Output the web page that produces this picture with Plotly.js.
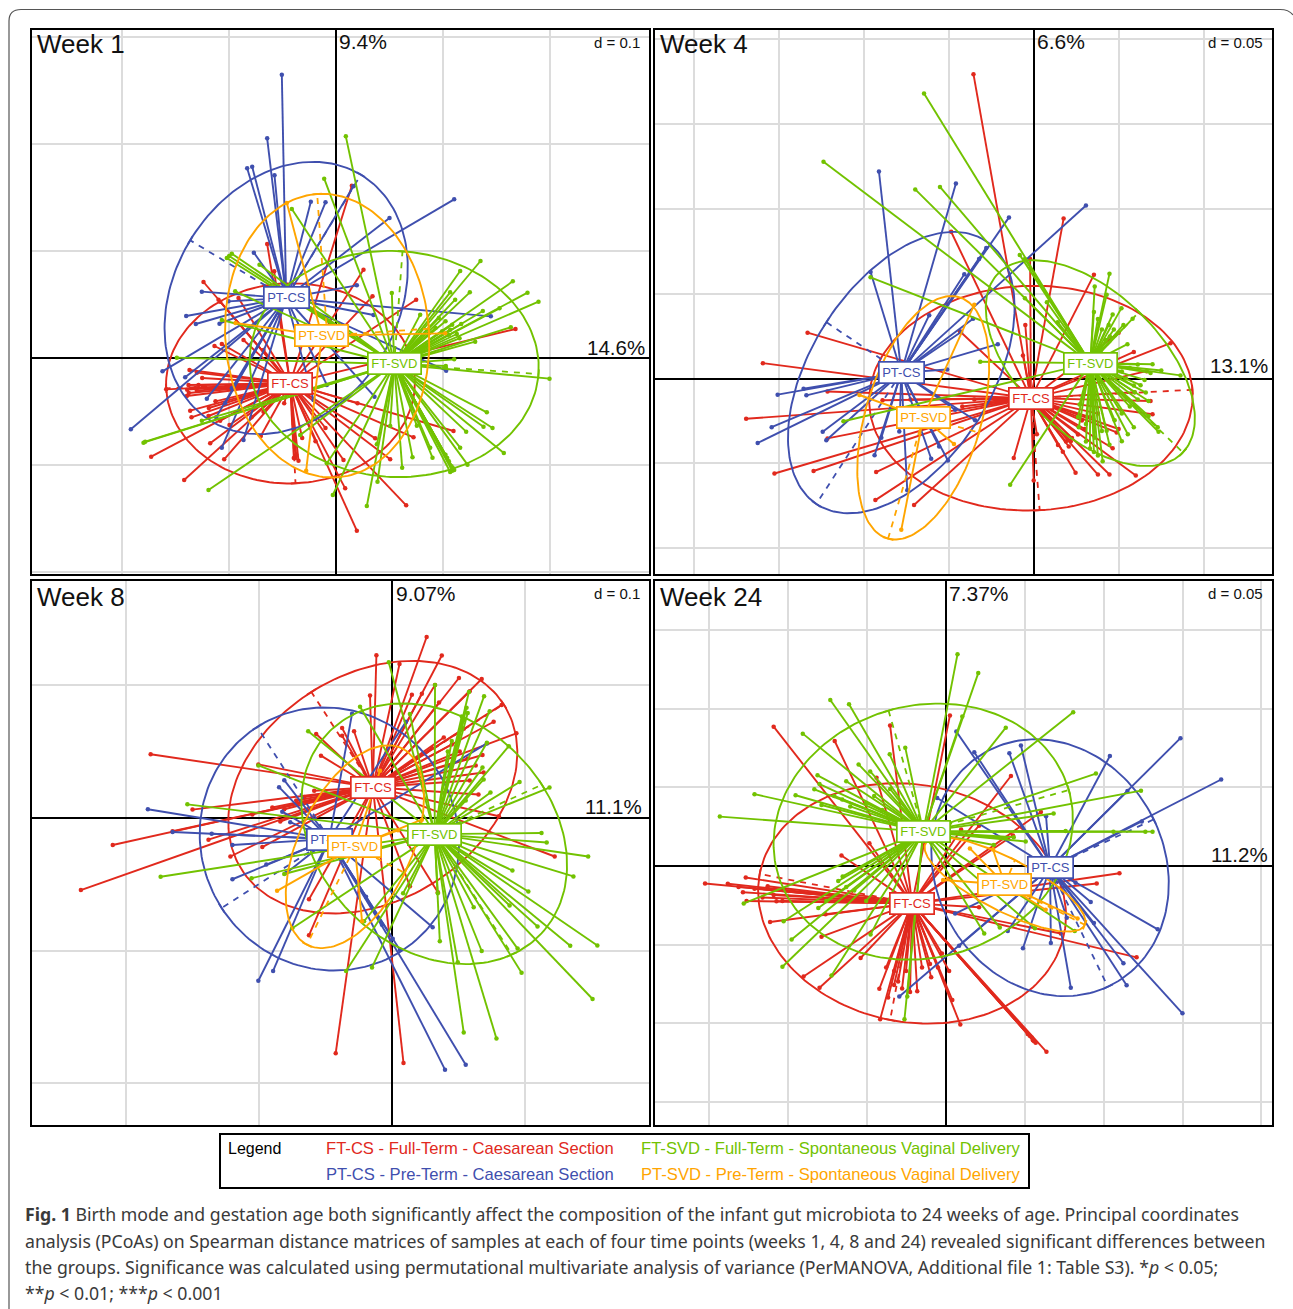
<!DOCTYPE html>
<html><head><meta charset="utf-8">
<script src="https://cdn.plot.ly/plotly-3.0.1.min.js"></script>
<style>html,body{margin:0;padding:0;background:#fff}#p{width:1293px;height:1309px}</style>
</head><body><div id="p"></div>
<script>
// Ellipses: [centreX, centreY, axisAx, axisAy, axisBx, axisBy]
const w1_FTCS_ell=[-135,-76,-373,-15,15,-300];
const w1_PTCS_ell=[-148,180,224,370,-288,173];
const w1_FTSVD_ell=[176,-18,433,-30,25,338];
const w1_PTSVD_ell=[-25,67,-30,425,305,21];
const w1_FTCS=[[-438,-36],[-416,-44],[-411,-81],[-441,-81],[-508,-94],[-446,-114],[-416,-98],[-436,-158],[-432,-178],[-381,-174],[-346,-188],[-376,-256],[-318,-201],[-252,-178],[-216,-161],[-224,-234],[-154,-136],[-111,-308],[-553,-296],[-454,-366],[-334,-304],[-363,36],[-341,42],[-346,169],[-276,54],[-216,24],[-205,342],[-184,260],[-396,228],[-351,175],[-291,180],[49,517],[84,265],[111,185],[242,175],[24,-306],[29,-391],[64,-518],[212,-442],[354,-219],[234,-238],[164,-304],[119,-241],[66,-136],[540,87],[-120,-300],[-100,-240],[-60,-250],[-30,-210],[-420,-90],[-445,-95],[-440,-105],[-400,-60],[-390,-90],[-125,-300],[-118,-290],[-380,-150],[-360,-130]];
const w1_PTCS=[[-161,850],[-205,659],[-265,569],[-250,574],[-183,548],[-74,469],[-30,467],[-245,316],[-401,199],[-321,170],[-448,126],[-419,102],[-348,103],[-519,-40],[-451,-58],[-614,-214],[-386,-122],[-341,-269],[-276,-246],[-311,-91],[-331,-136],[-358,-178],[-66,-126],[-26,-81],[356,476],[162,420],[54,515],[64,218],[466,125],[332,-38],[117,-116],[114,129]];
const w1_FTSVD=[[356,-4],[331,-24],[642,-62],[454,-163],[471,-210],[444,-206],[392,-221],[505,-285],[374,-269],[396,-320],[356,-336],[344,-342],[291,-299],[284,-269],[231,-298],[200,-329],[244,-203],[124,-259],[126,-371],[94,-444],[-8,-411],[164,-204],[609,169],[526,92],[492,149],[442,141],[419,49],[372,59],[377,102],[364,72],[344,85],[254,130],[435,291],[374,261],[532,230],[576,196],[403,197],[359,175],[344,197],[169,195],[31,665],[-34,538],[-131,447],[-326,300],[-311,313],[-319,306],[-228,280],[-301,200],[-341,114],[-476,1],[-576,-254],[-571,-251],[-401,-188],[-381,-396],[-106,-231],[-26,-316],[350,-338],[352,-330],[348,-325],[340,-310],[335,-300],[330,-290],[300,90],[320,80],[340,70],[350,100],[330,110],[310,120]];
const w1_PTSVD=[[-146,465],[-88,-338],[329,74],[-300,105]];
const w1_centres={FTCS:[-136,-76],PTCS:[-148,180],FTSVD:[176,-18],PTSVD:[-41,67]};

const w4_FTCS_ell=[-8,-56,405,24,22,-320];
const w4_PTCS_ell=[-333,17,-213,-375,-188,144];
const w4_FTSVD_ell=[141,44,232,-255,122,146];
const w4_PTSVD_ell=[-278,-112,-88,-345,140,-42];
const w4_FTCS=[[-152,869],[74,457],[150,296],[-208,419],[-568,131],[-680,44],[-722,-115],[-651,-271],[-553,-264],[-396,-267],[-398,-347],[-301,-361],[-518,-37],[-518,-171],[-186,135],[-28,66],[-22,153],[-10,341],[-51,-227],[-1,-291],[7,-159],[104,-269],[160,-274],[189,-274],[255,-277],[72,-209],[87,-194],[197,-199],[207,-154],[212,-144],[297,-102],[252,-39],[282,21],[342,101],[250,76],[212,131],[127,-144],[92,-179],[292,-64],[60,-190],[80,-180],[95,-170],[110,-160],[120,-120],[140,-110],[160,-100],[-380,-62],[-310,-60],[-250,-100],[-180,-80],[-150,-60],[-120,-70]];
const w4_PTCS=[[-389,591],[-196,557],[-63,460],[130,494],[-410,304],[-175,298],[-161,304],[-138,341],[-120,373],[-263,181],[-153,171],[-183,133],[-91,98],[-218,26],[-643,-46],[-578,-29],[-571,-48],[-658,-139],[-693,-184],[-530,-152],[-521,-176],[-400,-219],[-383,-169],[-338,-151],[-318,-319],[-258,-229],[-238,-194],[-216,-234],[-148,-119],[-198,-89]];
const w4_FTSVD=[[-276,814],[-528,619],[-298,540],[-236,547],[-410,289],[-135,48],[-478,-122],[-60,-303],[-36,353],[-23,341],[189,299],[152,263],[182,239],[219,201],[247,171],[197,183],[224,153],[234,98],[187,153],[32,218],[-23,229],[59,161],[367,9],[319,23],[297,41],[292,16],[277,-4],[267,-19],[252,-39],[287,-64],[287,-107],[310,-139],[312,-152],[250,-139],[235,-159],[220,-179],[182,-149],[189,-189],[172,-236],[152,-169],[112,-139],[114,-74],[202,-119],[130,-180],[140,-200],[150,-210],[160,-220],[170,-150],[130,-130],[110,-110],[220,-100],[240,-80],[260,-60],[280,-40],[250,-20],[230,0],[220,20],[240,30],[260,40],[180,110],[190,120],[170,140],[160,170],[150,190],[200,140]];
const w4_PTSVD=[[-333,-432],[-150,211],[-438,-47],[-201,-187]];
const w4_centres={FTCS:[-8,-56],PTCS:[-333,17],FTSVD:[141,44],PTSVD:[-278,-112]};

const w8_FTCS_ell=[-48,88,328,237,-154,272];
const w8_PTCS_ell=[-157,-60,-270,-197,-181,320];
const w8_FTSVD_ell=[106,-45,270,140,195,-345];
const w8_PTSVD_ell=[-93,-82,-120,-280,125,-75];
const w8_FTCS=[[87,517],[-39,465],[19,440],[125,464],[168,400],[225,397],[108,380],[-55,350],[50,352],[75,355],[118,330],[195,362],[275,323],[255,275],[180,255],[312,242],[227,180],[195,107],[217,67],[268,5],[408,-110],[115,-212],[45,-195],[29,-700],[-141,-672],[-208,-335],[-208,-232],[-325,-83],[-405,-110],[-460,-62],[-550,-38],[-700,-77],[-780,-206],[-500,24],[-270,25],[-195,78],[-605,182],[-335,153],[-178,178],[-125,257],[-190,240],[-95,248],[-125,235],[100,200],[130,230],[150,210],[170,190],[190,170],[210,150],[230,130],[-300,30],[-240,50],[-220,60],[-350,10],[-280,-10]];
const w8_PTCS=[[-100,298],[35,275],[238,213],[-270,108],[-283,88],[-275,18],[-255,-12],[-612,25],[-550,-40],[-452,-45],[-400,-77],[-400,-175],[-315,-133],[-265,-157],[-335,-465],[-298,-437],[133,-719],[185,-705],[102,-312],[-65,-225],[-25,-305],[2,-345],[20,-377]];
const w8_FTSVD=[[-8,445],[108,380],[193,360],[231,348],[187,315],[245,305],[180,280],[-80,318],[45,297],[-210,248],[238,215],[293,205],[227,144],[320,103],[395,87],[247,73],[185,50],[230,110],[-335,150],[-513,39],[-580,-168],[-352,-172],[-270,-160],[-250,-315],[-115,-437],[-50,-427],[-70,-295],[28,-215],[115,-215],[120,-352],[165,-412],[180,-613],[262,-630],[225,-380],[205,-255],[325,-442],[315,-373],[295,-250],[365,-310],[447,-365],[515,-364],[503,-517],[342,-210],[302,-150],[455,-167],[492,-110],[388,-70],[375,-43],[175,290],[150,220],[140,190],[190,300]];
const w8_PTSVD=[[-288,-208],[-75,-295],[75,-5],[-30,135],[15,-35]];
const w8_centres={FTCS:[-48,88],PTCS:[-157,-60],FTSVD:[107,-46],PTSVD:[-93,-82]};

const w24_FTCS_ell=[-85,-107,-382,84,-55,-333];
const w24_PTCS_ell=[261,-5,145,-340,260,138];
const w24_FTSVD_ell=[-57,98,365,119,-87,346];
const w24_PTSVD_ell=[148,-53,200,-115,25,70];
const w24_FTCS=[[-432,398],[-279,357],[-140,401],[10,430],[-174,252],[163,257],[238,154],[83,115],[38,104],[168,87],[-192,65],[-262,30],[-604,-50],[-547,-51],[-502,-33],[-509,-75],[-447,-58],[-432,-83],[-425,-101],[-441,-160],[-302,-138],[-312,-202],[-357,-316],[-317,-348],[-214,-263],[-167,-351],[-165,-438],[-145,-376],[-72,-358],[-37,-318],[8,-300],[16,-383],[36,-453],[221,-501],[252,-531],[478,-261],[288,-193],[378,-50],[435,-21],[83,-118],[218,-498],[-520,-60],[-480,-65],[-460,-90],[-500,-100],[-410,-100],[225,-505],[215,-490],[210,-485],[205,-480],[-120,-330],[-110,-350],[-100,-300],[-90,-360],[-130,-340],[-60,-290],[-40,-280],[-20,-290],[-10,-250],[-130,-300],[-150,-290]];
const w24_PTCS=[[588,365],[690,247],[411,314],[455,214],[491,127],[26,384],[71,325],[159,322],[188,344],[251,142],[-22,194],[531,-181],[593,-421],[453,-341],[445,-278],[371,-163],[363,-103],[313,-348],[303,-148],[263,-220],[193,-235],[155,-186],[-117,-373],[33,-228],[23,-136],[325,-48]];
const w24_FTSVD=[[29,605],[81,551],[319,439],[150,395],[-290,474],[-243,462],[-359,378],[-141,319],[-102,338],[-219,290],[-190,270],[-322,259],[-250,242],[-317,234],[-330,219],[-480,205],[-377,202],[-312,174],[-567,141],[41,427],[376,264],[489,215],[270,150],[518,98],[170,82],[-507,-107],[-259,-30],[-270,-43],[-407,-158],[-387,-210],[-410,-288],[-287,-313],[-189,-196],[-104,-438],[-97,-373],[96,-193],[135,-176],[323,-186],[223,-178],[-280,200],[-260,190],[-240,170],[-200,180],[-180,200],[-160,160],[-140,220],[300,100],[420,98],[500,98],[200,70],[150,80],[120,60],[-300,-100],[-320,-120],[-250,-60],[-230,-70],[-200,-100]];
const w24_PTSVD=[[118,47],[-7,-40],[330,-150],[60,50],[250,-125]];
const w24_centres={FTCS:[-85,-107],PTCS:[261,-5],FTSVD:[-57,98],PTSVD:[148,-53]};

const groupKeys=['FTCS','PTCS','FTSVD','PTSVD'];
const groupNames={FTCS:'FT-CS',PTCS:'PT-CS',FTSVD:'FT-SVD',PTSVD:'PT-SVD'};
const groupColors={FTCS:'#E1291D',PTCS:'#3F4FAE',FTSVD:'#72C200',PTSVD:'#FFA500'};
const legendEntries=[['FTCS','FT-CS - Full-Term - Caesarean Section'],['FTSVD','FT-SVD - Full-Term - Spontaneous Vaginal Delivery'],['PTCS','PT-CS - Pre-Term - Caesarean Section'],['PTSVD','PT-SVD - Pre-Term - Spontaneous Vaginal Delivery']];
const captionLines=['<b>Fig. 1</b> Birth mode and gestation age both significantly affect the composition of the infant gut microbiota to 24 weeks of age. Principal coordinates','analysis (PCoAs) on Spearman distance matrices of samples at each of four time points (weeks 1, 4, 8 and 24) revealed significant differences between','the groups. Significance was calculated using permutational multivariate analysis of variance (PerMANOVA, Additional file 1: Table S3). *<i>p</i> &lt; 0.05;','**<i>p</i> &lt; 0.01; ***<i>p</i> &lt; 0.001'];

const W=1293,H=1309;
const X=v=>v/W, Y=v=>1-v/H;
const panels=[
 {name:'Week 1',pc1:'14.6%',pc2:'9.4%',d:'d = 0.1',box:[32,649,30,574],rx:[-910.5,940.5],ry:[-648,984],dx:321,dy:321,nameY:44,dY:42,
  data:{FTCS:w1_FTCS,PTCS:w1_PTCS,FTSVD:w1_FTSVD,PTSVD:w1_PTSVD},ell:{FTCS:w1_FTCS_ell,PTCS:w1_PTCS_ell,FTSVD:w1_FTSVD_ell,PTSVD:w1_PTSVD_ell},c:w1_centres,
  pc1Pos:[647,347],pc2Pos:[337,41]},
 {name:'Week 4',pc1:'13.1%',pc2:'6.6%',d:'d = 0.05',box:[655,1272,30,574],rx:[-950.5,596.5],ry:[-558,995],dx:213,dy:242,nameY:44,dY:42,
  data:{FTCS:w4_FTCS,PTCS:w4_PTCS,FTSVD:w4_FTSVD,PTSVD:w4_PTSVD},ell:{FTCS:w4_FTCS_ell,PTCS:w4_PTCS_ell,FTSVD:w4_FTSVD_ell,PTSVD:w4_PTSVD_ell},c:w4_centres,
  pc1Pos:[1270,366],pc2Pos:[1035,41]},
 {name:'Week 8',pc1:'11.1%',pc2:'9.07%',d:'d = 0.1',box:[32,649,581,1125],rx:[-902.5,644.5],ry:[-877,677],dx:333,dy:379,nameY:597,dY:593,
  data:{FTCS:w8_FTCS,PTCS:w8_PTCS,FTSVD:w8_FTSVD,PTSVD:w8_PTSVD},ell:{FTCS:w8_FTCS_ell,PTCS:w8_PTCS_ell,FTSVD:w8_FTSVD_ell,PTSVD:w8_PTSVD_ell},c:w8_centres,
  pc1Pos:[644,806],pc2Pos:[394,593]},
 {name:'Week 24',pc1:'11.2%',pc2:'7.37%',d:'d = 0.05',box:[655,1272,581,1125],rx:[-729.5,817.5],ry:[-740,814],dx:197.7,dy:224.5,nameY:597,dY:593,
  data:{FTCS:w24_FTCS,PTCS:w24_PTCS,FTSVD:w24_FTSVD,PTSVD:w24_PTSVD},ell:{FTCS:w24_FTCS_ell,PTCS:w24_PTCS_ell,FTSVD:w24_FTSVD_ell,PTSVD:w24_PTSVD_ell},c:w24_centres,
  pc1Pos:[1270,854],pc2Pos:[947,593]}
];
const FONT='Liberation Sans, Arial, sans-serif';
const traces=[],annotations=[],layout={width:W,height:H,margin:{l:0,r:0,t:0,b:0},paper_bgcolor:'#fff',plot_bgcolor:'#fff',showlegend:false,hovermode:false};

panels.forEach((p,i)=>{
  const sfx=i===0?'':String(i+1);
  const xa='x'+sfx, ya='y'+sfx;
  const axBase={showline:true,mirror:true,linecolor:'#000',linewidth:2,showgrid:true,gridcolor:'#DCDCDC',gridwidth:2,zeroline:true,zerolinecolor:'#000',zerolinewidth:2,showticklabels:false,ticks:'',tick0:0};
  layout['xaxis'+sfx]=Object.assign({},axBase,{domain:[X(p.box[0]),X(p.box[1])],range:p.rx,dtick:p.dx,anchor:ya});
  layout['yaxis'+sfx]=Object.assign({},axBase,{domain:[Y(p.box[3]),Y(p.box[2])],range:p.ry,dtick:p.dy,anchor:xa});
  groupKeys.forEach(k=>{
    const col=groupColors[k],c=p.c[k],e=p.ell[k];
    const sx=[],sy=[];
    p.data[k].forEach(q=>{sx.push(c[0],q[0],null);sy.push(c[1],q[1],null);});
    traces.push({type:'scatter',mode:'lines',x:sx,y:sy,xaxis:xa,yaxis:ya,line:{color:col,width:1.9},hoverinfo:'skip'});
    traces.push({type:'scatter',mode:'markers',x:p.data[k].map(q=>q[0]),y:p.data[k].map(q=>q[1]),xaxis:xa,yaxis:ya,marker:{color:col,size:4.5},hoverinfo:'skip'});
    const ex=[],ey=[];
    for(let t=0;t<=180;t++){const a=t/180*2*Math.PI;ex.push(e[0]+e[2]*Math.cos(a)+e[4]*Math.sin(a));ey.push(e[1]+e[3]*Math.cos(a)+e[5]*Math.sin(a));}
    traces.push({type:'scatter',mode:'lines',x:ex,y:ey,xaxis:xa,yaxis:ya,line:{color:col,width:1.9},hoverinfo:'skip'});
    const ax=[],ay=[];
    [[e[2],e[3],e[4],e[5]],[e[4],e[5],e[2],e[3]]].forEach(v=>{ax.push(e[0],e[0]+v[0],null);ay.push(e[1],e[1]+v[1],null);});
    traces.push({type:'scatter',mode:'lines',x:ax,y:ay,xaxis:xa,yaxis:ya,line:{color:col,width:1.8,dash:'6px,6px'},hoverinfo:'skip'});
    const tx=[],ty=[];
    [[e[2],e[3],e[4],e[5]],[e[4],e[5],e[2],e[3]]].forEach(v=>{const n=Math.hypot(v[2],v[3]),u=v[2]/n*14,w=v[3]/n*14;tx.push(e[0]+v[0]-u,e[0]+v[0]+u,null);ty.push(e[1]+v[1]-w,e[1]+v[1]+w,null);});
    traces.push({type:'scatter',mode:'lines',x:tx,y:ty,xaxis:xa,yaxis:ya,line:{color:col,width:1.8},hoverinfo:'skip'});
  });
  groupKeys.forEach(k=>{
    annotations.push({xref:xa,yref:ya,x:p.c[k][0],y:p.c[k][1],text:groupNames[k],showarrow:false,bgcolor:'#fff',bordercolor:groupColors[k],borderwidth:1.7,borderpad:2.5,font:{family:FONT,size:13,color:groupColors[k]}});
  });
  annotations.push({xref:'paper',yref:'paper',x:X(p.box[0]+3),y:Y(p.nameY),xanchor:'left',yanchor:'middle',text:p.name,showarrow:false,font:{family:FONT,size:26,color:'#111'}});
  annotations.push({xref:'paper',yref:'paper',x:X(p.box[1]-7),y:Y(p.dY),xanchor:'right',yanchor:'middle',text:p.d,showarrow:false,font:{family:FONT,size:15,color:'#111'}});
  annotations.push({xref:'paper',yref:'paper',x:X(p.pc2Pos[0]),y:Y(p.pc2Pos[1]),xanchor:'left',yanchor:'middle',text:p.pc2,showarrow:false,font:{family:FONT,size:21,color:'#111'}});
  annotations.push({xref:'paper',yref:'paper',x:X(p.pc1Pos[0]),y:Y(p.pc1Pos[1]),xanchor:'right',yanchor:'middle',text:p.pc1,showarrow:false,font:{family:FONT,size:20.5,color:'#111'}});
});

annotations.push({xref:'paper',yref:'paper',x:X(226),y:Y(1148),xanchor:'left',yanchor:'middle',text:'Legend',showarrow:false,font:{family:FONT,size:16,color:'#000'}});
legendEntries.forEach((e,i)=>{
  annotations.push({xref:'paper',yref:'paper',x:X(i%2===0?324:639),y:Y(i<2?1148:1174),xanchor:'left',yanchor:'middle',text:e[1],showarrow:false,font:{family:FONT,size:16.6,color:groupColors[e[0]]}});
});
const capY=[1214,1241,1267,1293];
captionLines.forEach((t,i)=>annotations.push({xref:'paper',yref:'paper',x:X(23),y:Y(capY[i]),xanchor:'left',yanchor:'middle',text:t,showarrow:false,align:'left',font:{family:'Noto Sans, sans-serif',size:17.7,color:'#3a3a3a'}}));
layout.annotations=annotations;
layout.shapes=[
 {type:'rect',xref:'paper',yref:'paper',x0:X(220),x1:X(1029),y0:Y(1188),y1:Y(1134),line:{color:'#000',width:2},layer:'above'},
 {type:'path',xref:'paper',yref:'paper',path:`M ${X(9)} ${Y(1309)} L ${X(9)} ${Y(21)} Q ${X(9)} ${Y(9.5)} ${X(21)} ${Y(9.5)} L ${X(1280)} ${Y(9.5)} Q ${X(1289)} ${Y(9.5)} ${X(1293)} ${Y(15)}`,line:{color:'#555',width:1.2},layer:'above'}
];
Plotly.newPlot('p',traces,layout,{staticPlot:true,displayModeBar:false});
</script></body></html>
